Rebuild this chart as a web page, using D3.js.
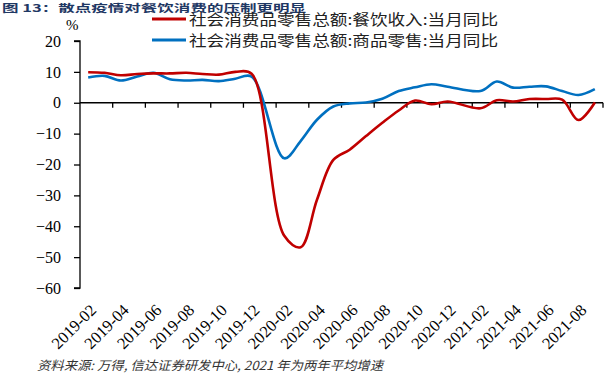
<!DOCTYPE html>
<html><head><meta charset="utf-8">
<script src="https://cdn.jsdelivr.net/npm/d3@7"></script>
<style>body{margin:0;background:#fff}svg{display:block}</style>
</head><body>
<script>
const categories = ["2019-02","2019-03","2019-04","2019-05","2019-06","2019-07","2019-08","2019-09","2019-10","2019-11","2019-12",
"2020-01","2020-02","2020-03","2020-04","2020-05","2020-06","2020-07","2020-08","2020-09","2020-10","2020-11","2020-12",
"2021-01","2021-02","2021-03","2021-04","2021-05","2021-06","2021-07","2021-08","2021-09"];
const cateringValues = [9.9,9.7,8.9,9.3,9.5,9.5,9.7,9.3,9.1,10.0,9.4,null,-43.1,-46.8,-31.4,-18.5,-15.2,-10.8,-6.5,-2.5,0.7,-0.5,0.4,null,-1.8,0.8,0.4,1.2,1.2,1.0,-5.6,0.1];
const goodsValues = [8.2,8.7,7.2,8.5,9.7,7.6,7.2,7.4,7.0,7.8,8.5,null,-18.0,-12.4,-5.5,-1.2,-0.2,0.1,1.3,3.8,5.0,6.0,5.2,null,3.8,6.9,4.9,5.2,5.3,3.8,2.5,4.4];
const yTicks = [20,10,0,-10,-20,-30,-40,-50,-60];
const xTickLabels = ["2019-02","2019-04","2019-06","2019-08","2019-10","2019-12","2020-02","2020-04","2020-06","2020-08","2020-10","2020-12","2021-02","2021-04","2021-06","2021-08"];
const seriesNames = ["社会消费品零售总额:餐饮收入:当月同比","社会消费品零售总额:商品零售:当月同比"];
const titleText = "图 13：散点疫情对餐饮消费的压制更明显";
const sourceText = "资料来源: 万得, 信达证券研发中心, 2021 年为两年平均增速";

const W=608,H=378;
const svg=d3.select("body").append("svg").attr("width",W).attr("height",H);
const serif="'Liberation Serif','Times New Roman',serif";

const x=d3.scaleBand().domain(categories).range([80,603]).padding(0);
const y=d3.scaleLinear().domain([-60,20]).range([288,41]);
const cx=c=>x(c)+x.bandwidth()/2;

// title
svg.append("text").attr("x",2).attr("y",11.5).attr("font-family","'Noto Sans CJK SC',sans-serif")
  .attr("font-weight","bold").attr("font-size",10.5).attr("fill","#1F3864")
  .attr("textLength",304).attr("lengthAdjust","spacingAndGlyphs").text(titleText);

// y axis
const yAxis=d3.axisLeft(y).tickValues(yTicks).tickSize(6).tickPadding(13).tickFormat(d3.format("d"));
const gy=svg.append("g").attr("transform","translate(80,0)").call(yAxis);
gy.select(".domain").attr("d",`M-6,${y(20)}H0V${y(-60)}H-6`).attr("stroke","#000").attr("stroke-width",1.3);
gy.selectAll(".tick line").attr("stroke","#000").attr("stroke-width",1.3);
gy.selectAll(".tick text").attr("font-family",serif).attr("font-size",16).attr("fill","#000");

svg.append("text").attr("x",66).attr("y",30).attr("font-family",serif).attr("font-size",15).text("%");

// x axis on zero line
const bw=x.bandwidth();
const gx=svg.append("g");
gx.append("line").attr("x1",80).attr("x2",603).attr("y1",y(0)).attr("y2",y(0)).attr("stroke","#000").attr("stroke-width",1.3);
categories.forEach((c,i)=>{
  if(i%2===1){
    const tx=x(c)+bw;
    gx.append("line").attr("x1",tx).attr("x2",tx).attr("y1",y(0)).attr("y2",y(0)+5).attr("stroke","#000").attr("stroke-width",1.3);
  }
});
xTickLabels.forEach(l=>{
  const px=cx(l)+5, py=307;
  svg.append("text").attr("transform",`translate(${px},${py}) rotate(-45)`)
    .attr("text-anchor","end").attr("dy","0.35em").attr("font-family",serif).attr("font-size",16.5).attr("fill","#000").text(l);
});

// lines
const line=d3.line().x(d=>cx(d.c)).y(d=>y(d.v)).curve(d3.curveCatmullRom.alpha(0.5));
const mk=vals=>categories.map((c,i)=>({c,v:vals[i]})).filter(d=>d.v!==null);
svg.append("path").datum(mk(goodsValues)).attr("d",line).attr("fill","none").attr("stroke","#0070C0").attr("stroke-width",2.6);
svg.append("path").datum(mk(cateringValues)).attr("d",line).attr("fill","none").attr("stroke","#C00000").attr("stroke-width",2.6);

// legend
const leg=[{n:seriesNames[0],col:"#C00000",y:19},{n:seriesNames[1],col:"#0070C0",y:40}];
leg.forEach(d=>{
  svg.append("line").attr("x1",152).attr("x2",186).attr("y1",d.y).attr("y2",d.y).attr("stroke",d.col).attr("stroke-width",3);
  svg.append("text").attr("x",189).attr("y",d.y+5.5).attr("font-family","'Noto Sans CJK SC',sans-serif").attr("font-size",15)
    .attr("fill","#222").attr("textLength",309).attr("lengthAdjust","spacingAndGlyphs").text(d.n);
});

// source
svg.append("text").attr("x",37).attr("y",370).attr("font-family","'Noto Sans CJK SC',sans-serif").attr("font-size",12.5)
  .attr("font-style","italic").attr("fill","#333").attr("textLength",346).attr("lengthAdjust","spacingAndGlyphs").text(sourceText);
</script>
</body></html>
